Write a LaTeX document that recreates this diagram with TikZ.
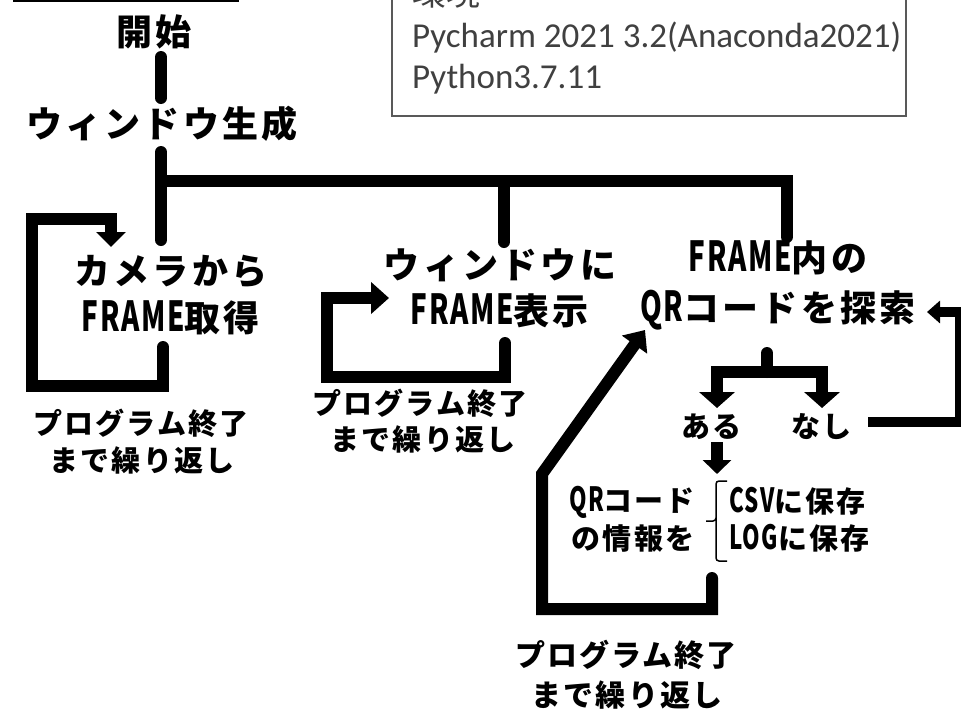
\documentclass[tikz,border=0pt]{standalone}
\usepackage{fontspec}
\usetikzlibrary{arrows.meta}
\newfontfamily\jpmain{Noto Sans CJK JP}[LetterSpace=9]
\newfontfamily\jplab{Noto Sans CJK JP}[LetterSpace=7]
\newfontfamily\latmain{Noto Sans CJK JP}[FakeStretch=0.67,Scale=1.15,LetterSpace=4]
\newfontfamily\envf{Carlito}
\newfontfamily\jpreg{Noto Sans CJK JP}
\definecolor{envgray}{HTML}{404040}
\newcommand{\LT}[1]{{\latmain #1}}
\tikzset{
  mainlbl/.style={inner sep=0pt, font=\jpmain\bfseries\fontsize{36}{40}\selectfont},
  looplbl/.style={inner sep=0pt, font=\jplab\bfseries\fontsize{29}{32}\selectfont},
  envlbl/.style={anchor=base west, inner sep=0pt, text=envgray, font=\envf\fontsize{35}{40}\selectfont},
  flow/.style={line width=12pt, line cap=round, line join=miter},
  thinbox/.style={line width=1.5pt},
}
\begin{document}
\begin{tikzpicture}[x=1pt,y=-1pt]
\useasboundingbox (0,0) rectangle (961,715);
\clip (0,0) rectangle (961,715);

% boxes at the top (cut off)
\draw[thinbox] (14,-40) rectangle (238,1);
\draw[thinbox, draw=black!65] (392,-40) rectangle (906,116);
\node[envlbl, font=\jpreg\fontsize{34}{40}\selectfont] (envt) at (412,5) {環境};
\node[envlbl] (env1) at (412,47) {Pycharm 2021 3.2(Anaconda2021)};
\node[envlbl] (env2) at (412,88) {Python3.7.11};

% main texts
\node[mainlbl] (start) at (154,32) {開始};
\node[mainlbl] (win) at (162,124) {ウィンドウ生成};
\node[mainlbl] (cam1) at (171,272) {カメラから};
\node[mainlbl] (cam2) at (171,318) {\LT{FRAME}取得};
\node[mainlbl] (disp1) at (500,265) {ウィンドウに};
\node[mainlbl] (disp2) at (500,311) {\LT{FRAME}表示};
\node[mainlbl] (srch1) at (778,258) {\LT{FRAME}内の};
\node[mainlbl] (srch2) at (778,310) {\LT{QR}コードを探索};

% loop labels
\node[looplbl] (lpA1) at (141,423) {プログラム終了};
\node[looplbl] (lpA2) at (142,460) {まで繰り返し};
\node[looplbl] (lpB1) at (420,403) {プログラム終了};
\node[looplbl] (lpB2) at (423,439) {まで繰り返し};
\node[looplbl, font=\jplab\bfseries\fontsize{30}{32}\selectfont] (lpC1) at (626,655) {プログラム終了};
\node[looplbl, font=\jplab\bfseries\fontsize{30}{32}\selectfont] (lpC2) at (627,695) {まで繰り返し};

% branch texts
\node[looplbl] (aru) at (712,427) {ある};
\node[looplbl] (nashi) at (822,427) {なし};
\node[looplbl] (qr1) at (632,502) {\LT{QR}コード};
\node[looplbl] (qr2) at (633,539) {の情報を};
\node[looplbl, anchor=west] (csv) at (729,501) {\LT{CSV}に保存};
\node[looplbl, anchor=west] (log) at (729,538) {\LT{LOG}に保存};

% coordinates
\coordinate (s1) at (161,57);
\coordinate (s2) at (161,98);
\coordinate (t0) at (161,152);
\coordinate (t1) at (161,240);
\coordinate (tj) at (161,181);
\coordinate (tr) at (787,181);
\coordinate (trb) at (787,237);
\coordinate (tm) at (504,181);
\coordinate (tmb) at (504,242);

% start -> window -> tree
\draw[flow] (s1) -- (s2);
\draw[flow] (t0) -- (t1);
\draw[flow] (tj) -- (tr) -- (trb);
\draw[flow] (tm) -- (tmb);

% left loop
\coordinate (la) at (163,347);
\coordinate (lb) at (163,386);
\coordinate (lc) at (32,386);
\coordinate (ld) at (32,219);
\coordinate (le) at (111,219);
\coordinate (lf) at (111,247);
\draw[flow, -{Triangle[width=29pt,length=15pt]}] (la) -- (lb) -- (lc) -- (ld) -- (le) -- (lf);

% middle loop
\coordinate (ma) at (505,343);
\coordinate (mb) at (505,377);
\coordinate (mc) at (327,377);
\coordinate (md) at (327,298);
\coordinate (me) at (389,298);
\draw[flow, -{Triangle[width=31pt,length=18pt]}] (ma) -- (mb) -- (mc) -- (md) -- (me);

% right: found / not found branch
\coordinate (ba) at (767,353);
\coordinate (bb) at (767,372);
\coordinate (bl) at (717,372);
\coordinate (br) at (822,372);
\coordinate (blt) at (717,408);
\coordinate (brt) at (822,408);
\draw[flow] (ba) -- (bb);
\draw[line width=12pt, line join=miter, {Triangle[width=35pt,length=16pt]}-{Triangle[width=35pt,length=16pt]}] (blt) -- (bl) -- (br) -- (brt);

% not found -> back to search
\coordinate (na) at (868,422);
\coordinate (nb) at (960,422);
\coordinate (nc) at (960,312);
\coordinate (nd) at (927,312);
\draw[line width=10pt, line join=miter, -{Triangle[width=22pt,length=13pt]}] (na) -- (nb) -- (nc) -- (nd);

% found -> info
\coordinate (fa) at (717,442);
\coordinate (fb) at (717,474);
\draw[line width=12pt, -{Triangle[width=28pt,length=14pt]}] (fa) -- (fb);

% brace
\draw[line width=1.5pt, rounded corners=3pt] (727,481) -- (716,481) -- (716,521) -- (706,521);
\draw[line width=1.5pt, rounded corners=3pt] (716,518) -- (716,561) -- (727,561);

% bottom loop back to search
\coordinate (ca) at (712,578);
\coordinate (cb) at (712,609);
\coordinate (cc) at (542,609);
\coordinate (cd) at (542,474);
\coordinate (ce) at (645,330);
\draw[flow, -{Triangle[width=30pt,length=18pt]}] (ca) -- (cb) -- (cc) -- (cd) -- (ce);
\end{tikzpicture}
\end{document}
